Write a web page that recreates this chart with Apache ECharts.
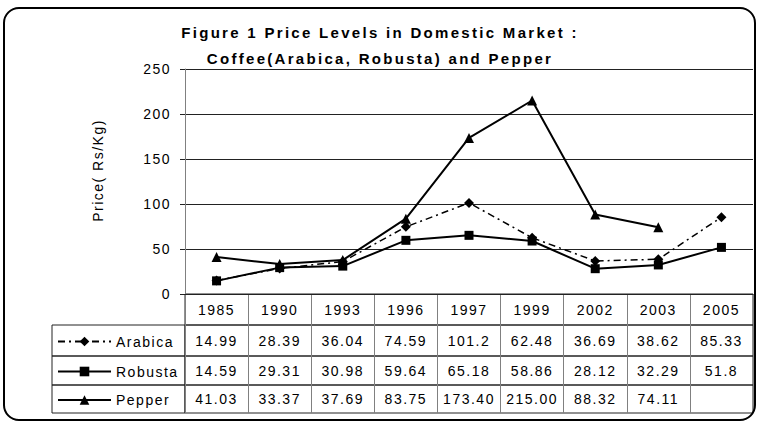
<!DOCTYPE html>
<html>
<head>
<meta charset="utf-8">
<script src="https://cdn.jsdelivr.net/npm/echarts@6/dist/echarts.min.js"></script>
<style>
  html, body { margin: 0; padding: 0; background: #fff; }
  #wrap { position: relative; width: 760px; height: 424px; }
  #chart { width: 760px; height: 424px; }
  #frame { position: absolute; left: 3px; top: 7px; width: 753px; height: 414px; box-sizing: border-box;
           border: 2px solid #000; border-radius: 16px; pointer-events: none; }
  /* the original export has widely tracked text */
  #chart svg text { letter-spacing: 1.5px; }
  #chart svg text[style*="bold"] { letter-spacing: 2.3px; }
</style>
</head>
<body>
<div id="wrap"><div id="chart"></div><div id="frame"></div></div>
<script>
// data
const years = ['1985', '1990', '1993', '1996', '1997', '1999', '2002', '2003', '2005'];
const arabica = [14.99, 28.39, 36.04, 74.59, 101.2, 62.48, 36.69, 38.62, 85.33];
const robusta = [14.59, 29.31, 30.98, 59.64, 65.18, 58.86, 28.12, 32.29, 51.8];
const pepper = [41.03, 33.37, 37.69, 83.75, 173.40, 215.00, 88.32, 74.11, null];
const yTicks = [0, 50, 100, 150, 200, 250];

// layout
const FONT = "'Liberation Sans', Arial, sans-serif";
const plotLeft = 185, plotRight = 7, plotTop = 69, axisY = 294;
const tableLeft = 52;
const rowTops = [294, 325, 356, 385];
const rowHeights = [31, 31, 29, 28];

const series = [
  { name: 'Arabica', values: arabica, text: v => String(v) },
  { name: 'Robusta', values: robusta, text: v => String(v) },
  { name: 'Pepper', values: pepper, text: v => (v == null ? '' : v.toFixed(2)) }
];
const looks = {
  Arabica: { symbol: 'diamond', size: 10, line: { color: '#000', width: 1.5, type: [7, 4, 2, 4] } },
  Robusta: { symbol: 'rect', size: 9, line: { color: '#000', width: 2, type: 'solid' } },
  Pepper: { symbol: 'triangle', size: 10, line: { color: '#000', width: 2, type: 'solid' } }
};

const chart = echarts.init(document.getElementById('chart'), null, { renderer: 'svg' });

const grids = [{ left: plotLeft, right: plotRight, top: plotTop, bottom: 424 - axisY, outerBoundsMode: 'none' }];
const xAxes = [{
  gridIndex: 0, type: 'category', data: years,
  axisLine: { lineStyle: { color: '#222' } },
  axisTick: { show: false }, axisLabel: { show: false }
}];
const yAxes = [{
  gridIndex: 0, type: 'value', min: yTicks[0], max: yTicks[yTicks.length - 1], interval: 50,
  name: 'Price( Rs/Kg)', nameLocation: 'middle', nameRotate: 90, nameGap: 80,
  nameTextStyle: { fontSize: 14, color: '#000', fontFamily: FONT, padding: [0, 0, 0, 22] },
  axisLine: { show: true, lineStyle: { color: '#808080' } },
  axisTick: { show: true, length: 5, lineStyle: { color: '#222' } },
  axisLabel: { fontSize: 14, color: '#000', fontFamily: FONT, margin: 14 },
  splitLine: { lineStyle: { color: '#222' } }
}];

// data table rows: years, then one row per series
const rowTexts = [years].concat(series.map(s => s.values.map(s.text)));
rowTexts.forEach((texts, r) => {
  const gi = grids.length;
  grids.push({
    left: plotLeft, right: plotRight, top: rowTops[r], height: rowHeights[r],
    show: true, borderColor: '#222', borderWidth: 1, outerBoundsMode: 'none'
  });
  xAxes.push({
    gridIndex: gi, type: 'category', data: texts,
    axisLine: { show: false }, axisTick: { show: false },
    axisLabel: {
      inside: true, interval: 0, margin: rowHeights[r] / 2, verticalAlign: 'middle',
      fontSize: 14, color: '#000', fontFamily: FONT
    },
    splitLine: { show: true, interval: 0, lineStyle: { color: '#808080' } }
  });
  yAxes.push({ gridIndex: gi, type: 'value', show: false });
});

// left header cells holding the legend keys
const legends = [];
series.forEach((s, i) => {
  const r = i + 1;
  const gi = grids.length;
  grids.push({
    left: tableLeft, width: plotLeft - tableLeft, top: rowTops[r], height: rowHeights[r],
    show: true, borderColor: '#222', borderWidth: 1, outerBoundsMode: 'none'
  });
  xAxes.push({ gridIndex: gi, type: 'value', show: false });
  yAxes.push({ gridIndex: gi, type: 'value', show: false });
  legends.push({
    data: [s.name], left: tableLeft, top: rowTops[r] + rowHeights[r] / 2 - 11,
    itemWidth: 53, itemHeight: 12, padding: 5, selectedMode: false,
    textStyle: { fontSize: 14, color: '#000', fontFamily: FONT }
  });
});

const option = {
  animation: false,
  backgroundColor: 'transparent',
  title: {
    text: 'Figure 1 Price Levels in Domestic Market :\nCoffee(Arabica, Robusta) and Pepper',
    left: 'center', top: 15,
    textStyle: { fontSize: 15, fontWeight: 'bold', color: '#000', fontFamily: FONT, lineHeight: 25.5 }
  },
  legend: legends,
  grid: grids,
  xAxis: xAxes,
  yAxis: yAxes,
  series: series.map(s => ({
    name: s.name, type: 'line', xAxisIndex: 0, yAxisIndex: 0,
    data: s.values,
    symbol: looks[s.name].symbol, symbolSize: looks[s.name].size, showAllSymbol: true,
    itemStyle: { color: '#000' },
    lineStyle: looks[s.name].line,
    connectNulls: false
  }))
};

chart.setOption(option);
</script>
</body>
</html>
